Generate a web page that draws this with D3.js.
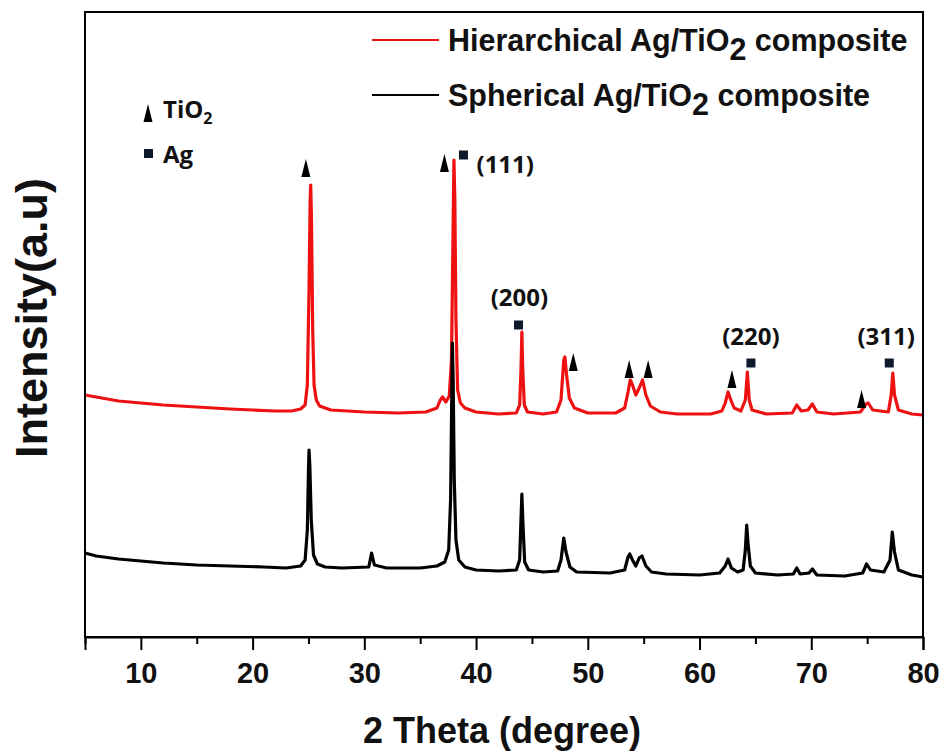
<!DOCTYPE html>
<html>
<head>
<meta charset="utf-8">
<script src="https://cdn.jsdelivr.net/npm/d3@7"></script>
<style>
  body { margin: 0; background: #fff; }
  svg { display: block; }
</style>
</head>
<body>
<script>
// 2 theta (degree), intensity (a.u.)
const hierarchical = [
  [5.0, 242], [6.5, 239], [8, 236], [10, 234], [12, 232], [15, 230], [18, 228], [20, 227],
  [22, 226], [23.5, 226], [24.3, 228], [24.7, 232], [24.9, 252], [25.05, 347], [25.15, 437],
  [25.2, 452], [25.27, 417], [25.38, 307], [25.5, 252], [25.7, 237], [26.0, 231], [27, 227],
  [30, 225], [33, 224], [35.5, 225], [36.5, 229], [36.8, 237], [37.0, 240], [37.3, 235],
  [37.6, 241], [37.8, 277], [37.92, 387], [38.02, 477], [38.1, 437], [38.2, 317], [38.35, 247],
  [38.6, 234], [39, 229], [40, 225], [42, 223], [43.6, 224], [43.9, 232], [44.02, 267],
  [44.1, 305], [44.18, 267], [44.32, 232], [44.6, 225], [46, 223], [47.2, 225], [47.6, 237],
  [47.85, 277], [47.95, 280], [48.1, 262], [48.35, 239], [48.8, 229], [50, 224], [52.5, 224],
  [53.3, 229], [53.6, 245], [53.8, 257], [54.0, 252], [54.3, 242], [54.6, 249], [54.9, 257],
  [55.2, 242], [55.6, 231], [56.5, 225], [58, 223], [61, 223], [62, 226], [62.3, 234],
  [62.55, 245], [62.8, 237], [63.1, 229], [63.7, 226], [64.1, 237], [64.28, 265], [64.45, 237],
  [64.7, 227], [66, 223], [68.3, 224], [68.7, 232], [69.1, 226], [69.7, 227], [70.1, 233],
  [70.5, 225], [72, 223], [74.4, 225], [74.9, 233], [75.1, 234], [75.5, 227], [76.9, 225],
  [77.15, 242], [77.3, 264], [77.45, 242], [77.8, 227], [79, 223], [80, 222]
];

const spherical = [
  [5.0, 84], [6, 81], [8, 78], [10, 76], [12, 74], [15, 72], [18, 71], [21, 70], [23, 69],
  [24.3, 71], [24.7, 77], [24.9, 107], [25.0, 167], [25.05, 187], [25.12, 172], [25.25, 117],
  [25.45, 82], [25.8, 73], [26.5, 70], [28, 69], [30.4, 70], [30.65, 84], [30.9, 72], [32, 69],
  [35, 69], [36.5, 71], [37.2, 75], [37.55, 87], [37.72, 137], [37.82, 237], [37.88, 294],
  [37.95, 257], [38.05, 157], [38.2, 97], [38.45, 77], [39, 70], [40, 67], [42, 66],
  [43.6, 67], [43.9, 77], [44.02, 117], [44.1, 143], [44.2, 112], [44.35, 75], [44.7, 67],
  [46, 65], [47.3, 66], [47.6, 77], [47.85, 99], [48.05, 85], [48.4, 70], [49, 65], [52, 64],
  [53.3, 67], [53.6, 80], [53.75, 83], [54.0, 77], [54.3, 71], [54.6, 79], [54.85, 81],
  [55.2, 71], [55.7, 65], [57, 63], [60, 62], [61.8, 64], [62.3, 71], [62.55, 78], [62.85, 69],
  [63.4, 65], [63.9, 67], [64.1, 87], [64.22, 112], [64.35, 92], [64.55, 71], [65, 64],
  [67, 62], [68.4, 63], [68.7, 69], [69.0, 63], [69.8, 64], [70.1, 68], [70.5, 62], [73, 61],
  [74.6, 64], [74.95, 73], [75.3, 67], [76.5, 65], [77.05, 77], [77.25, 105], [77.45, 85],
  [77.8, 67], [79, 62], [80, 60]
];

// phase markers: [2 theta, intensity]
const tio2Marks = [[24.77, 469], [37.17, 474], [48.7, 275], [53.7, 268], [55.4, 268], [62.9, 258], [74.5, 238]];
const agMarks = [[38.87, 482], [43.8, 312], [64.6, 274], [76.98, 274]];
const planeLabels = [
  { text: "(111)", x: 40.04, y: 472, anchor: "start" },
  { text: "(200)", x: 43.88, y: 339, anchor: "middle" },
  { text: "(220)", x: 64.6, y: 300, anchor: "middle" },
  { text: "(311)", x: 76.7, y: 300, anchor: "middle" }
];

const majorTicks = [10, 20, 30, 40, 50, 60, 70, 80];
const minorTicks = [5, 15, 25, 35, 45, 55, 65, 75];

const series = [
  { name: "Hierarchical Ag/TiO", color: "#ee1111", data: hierarchical },
  { name: "Spherical Ag/TiO", color: "#000000", data: spherical }
];

const W = 944, H = 756;
const margin = { top: 12, right: 21, bottom: 119, left: 85 };

const svg = d3.select("body")
  .append("svg")
  .attr("width", W)
  .attr("height", H);

const x = d3.scaleLinear().domain([5, 80]).range([margin.left, W - margin.right]);
const y = d3.scaleLinear().domain([0, 625]).range([H - margin.bottom, margin.top]);

const line = d3.line()
  .x(d => x(d[0]))
  .y(d => y(d[1]));

// traces
svg.append("g")
  .selectAll("path")
  .data(series)
  .join("path")
  .attr("d", d => line(d.data))
  .attr("fill", "none")
  .attr("stroke", d => d.color)
  .attr("stroke-width", 3.2)
  .attr("stroke-linejoin", "round");

// frame
svg.append("rect")
  .attr("x", x(5))
  .attr("y", y(625))
  .attr("width", x(80) - x(5))
  .attr("height", y(0) - y(625))
  .attr("fill", "none")
  .attr("stroke", "#000")
  .attr("stroke-width", 2);

// bottom axis
const xAxis = svg.append("g")
  .attr("transform", "translate(0," + y(0) + ")")
  .call(d3.axisBottom(x).tickValues(majorTicks).tickSize(13).tickPadding(12).tickFormat(d3.format("d")));
xAxis.select(".domain").attr("stroke-width", 2);
xAxis.selectAll(".tick line").attr("stroke-width", 2);
xAxis.selectAll(".tick text")
  .attr("font-family", "'Liberation Sans', Arial, sans-serif")
  .attr("font-weight", "bold")
  .attr("font-size", "29px")
  .attr("fill", "#111");

svg.append("g")
  .attr("transform", "translate(0," + y(0) + ")")
  .call(d3.axisBottom(x).tickValues(minorTicks).tickSize(7).tickFormat(""))
  .call(g => g.select(".domain").remove())
  .selectAll(".tick line").attr("stroke-width", 2);

// axis titles
svg.append("text")
  .attr("x", (x(5) + x(80)) / 2 - 2)
  .attr("y", 743)
  .attr("text-anchor", "middle")
  .attr("font-family", "'Liberation Sans', Arial, sans-serif")
  .attr("font-weight", "bold")
  .attr("font-size", "36px")
  .attr("fill", "#111")
  .text("2 Theta (degree)");

svg.append("text")
  .attr("transform", "translate(47,318) rotate(-90)")
  .attr("text-anchor", "middle")
  .attr("font-family", "'Liberation Sans', Arial, sans-serif")
  .attr("font-weight", "bold")
  .attr("font-size", "45px")
  .attr("fill", "#111")
  .text("Intensity(a.u)");

// series legend
const legend = svg.append("g")
  .selectAll("g")
  .data(series)
  .join("g")
  .attr("transform", (d, i) => "translate(372," + (40 + i * 55) + ")");

legend.append("line")
  .attr("x1", 0).attr("x2", 67)
  .attr("stroke", d => d.color)
  .attr("stroke-width", 2);

const legText = legend.append("text")
  .attr("x", 76)
  .attr("y", 11)
  .attr("font-family", "'Liberation Sans', Arial, sans-serif")
  .attr("font-weight", "bold")
  .attr("font-size", "30.5px")
  .attr("fill", "#111");
legText.append("tspan").text(d => d.name);
legText.append("tspan").attr("dy", 9).text("2");
legText.append("tspan").attr("dy", -9).text(" composite");

// phase symbols
const tri = d3.symbol().type({
  draw(ctx) {
    ctx.moveTo(0, -9);
    ctx.lineTo(4.5, 9);
    ctx.lineTo(-4.5, 9);
    ctx.closePath();
  }
});

svg.append("g")
  .selectAll("path")
  .data(tio2Marks)
  .join("path")
  .attr("transform", d => "translate(" + x(d[0]) + "," + y(d[1]) + ")")
  .attr("d", tri())
  .attr("fill", "#000");

svg.append("g")
  .selectAll("rect")
  .data(agMarks)
  .join("rect")
  .attr("x", d => x(d[0]) - 4.5)
  .attr("y", d => y(d[1]) - 4.5)
  .attr("width", 9)
  .attr("height", 9)
  .attr("fill", "#0d1a2b");

svg.append("g")
  .selectAll("text")
  .data(planeLabels)
  .join("text")
  .attr("x", d => x(d.x))
  .attr("y", d => y(d.y))
  .attr("dy", "0.35em")
  .attr("text-anchor", d => d.anchor)
  .attr("font-family", "'Open Sans', sans-serif")
  .attr("font-weight", "bold")
  .attr("font-size", "24px")
  .attr("fill", "#111")
  .text(d => d.text);

// phase key
svg.append("path")
  .attr("transform", "translate(148,113)")
  .attr("d", tri())
  .attr("fill", "#000");
const tio2Key = svg.append("text")
  .attr("x", 163)
  .attr("y", 118)
  .attr("font-family", "'Open Sans', sans-serif")
  .attr("font-weight", "bold")
  .attr("font-size", "24px")
  .attr("fill", "#111");
tio2Key.append("tspan").text("TiO");
tio2Key.append("tspan").attr("dy", 6).attr("font-size", "16px").text("2");

svg.append("rect")
  .attr("x", 144).attr("y", 149)
  .attr("width", 9).attr("height", 9)
  .attr("fill", "#0d1a2b");
svg.append("text")
  .attr("x", 163)
  .attr("y", 163)
  .attr("font-family", "'Open Sans', sans-serif")
  .attr("font-weight", "bold")
  .attr("font-size", "24px")
  .attr("fill", "#111")
  .text("Ag");
</script>
</body>
</html>
